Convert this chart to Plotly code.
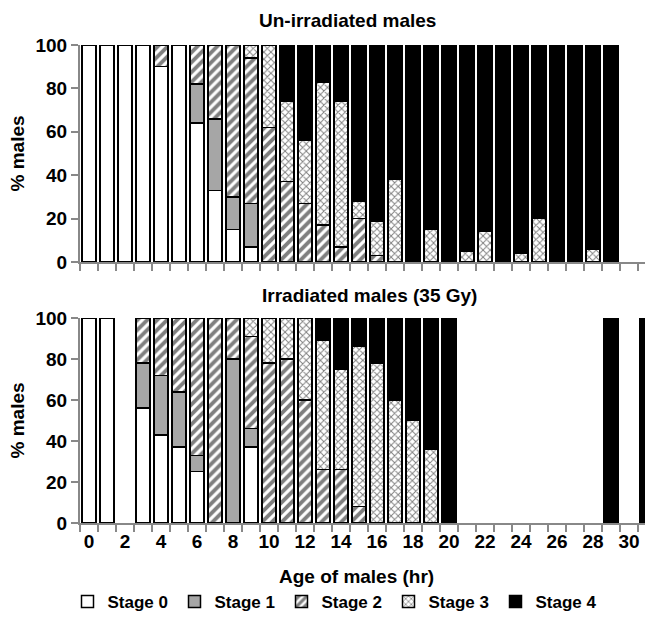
import plotly.graph_objects as go

ages = list(range(32))
tick_labels = [str(v) for v in range(0, 31, 2)]
stage_names = ["Stage 0", "Stage 1", "Stage 2", "Stage 3", "Stage 4"]

# Un-irradiated males (% per stage), ages 0..31
un_s0 = [100, 100, 100, 100, 90, 100, 64, 33, 15, 7, 0, 0, 0, 0, 0, 0, 0, 0, 0, 0, 0, 0, 0, 0, 0, 0, 0, 0, 0, 0, 0, 0]
un_s1 = [0, 0, 0, 0, 0, 0, 18, 33, 15, 20, 0, 0, 0, 0, 0, 0, 0, 0, 0, 0, 0, 0, 0, 0, 0, 0, 0, 0, 0, 0, 0, 0]
un_s2 = [0, 0, 0, 0, 10, 0, 18, 34, 70, 67, 62, 37, 27, 17, 7, 20, 3, 0, 0, 0, 0, 0, 0, 0, 0, 0, 0, 0, 0, 0, 0, 0]
un_s3 = [0, 0, 0, 0, 0, 0, 0, 0, 0, 6, 38, 37, 29, 66, 67, 8, 16, 38, 0, 15, 0, 5, 14, 0, 4, 20, 0, 0, 6, 0, 0, 0]
un_s4 = [0, 0, 0, 0, 0, 0, 0, 0, 0, 0, 0, 26, 44, 17, 26, 72, 81, 62, 100, 85, 100, 95, 86, 100, 96, 80, 100, 100, 94, 100, 0, 0]

# Irradiated males (35 Gy)
ir_s0 = [100, 100, 0, 56, 43, 37, 25, 0, 0, 37, 0, 0, 0, 0, 0, 0, 0, 0, 0, 0, 0, 0, 0, 0, 0, 0, 0, 0, 0, 0, 0, 0]
ir_s1 = [0, 0, 0, 22, 29, 27, 8, 0, 80, 9, 0, 0, 0, 0, 0, 0, 0, 0, 0, 0, 0, 0, 0, 0, 0, 0, 0, 0, 0, 0, 0, 0]
ir_s2 = [0, 0, 0, 22, 28, 36, 67, 100, 20, 45, 78, 80, 60, 26, 26, 8, 0, 0, 0, 0, 0, 0, 0, 0, 0, 0, 0, 0, 0, 0, 0, 0]
ir_s3 = [0, 0, 0, 0, 0, 0, 0, 0, 0, 9, 22, 20, 40, 63, 49, 78, 78, 60, 50, 36, 0, 0, 0, 0, 0, 0, 0, 0, 0, 0, 0, 0]
ir_s4 = [0, 0, 0, 0, 0, 0, 0, 0, 0, 0, 0, 0, 0, 11, 25, 14, 22, 40, 50, 64, 100, 0, 0, 0, 0, 0, 0, 0, 0, 100, 0, 100]

styles = [
    dict(color="white", pattern=dict(shape="")),
    dict(color="#A6A6A6", pattern=dict(shape="")),
    dict(color="white", pattern=dict(shape="/", fgcolor="black", bgcolor="white", size=7, solidity=0.55, fillmode="overlay")),
    dict(color="white", pattern=dict(shape="x", fgcolor="black", bgcolor="white", size=5, solidity=0.35, fillmode="overlay")),
    dict(color="black", pattern=dict(shape="")),
]

FONT = "Liberation Sans"
fig = go.Figure()

def nz(vals):
    return [v if v else None for v in vals]

for panel, series, ya, xa in [
    ("top", [un_s0, un_s1, un_s2, un_s3, un_s4], "y", "x"),
    ("bot", [ir_s0, ir_s1, ir_s2, ir_s3, ir_s4], "y2", "x2"),
]:
    for i, vals in enumerate(series):
        st = styles[i]
        fig.add_trace(go.Bar(
            x=ages, y=nz(vals), name=stage_names[i],
            xaxis=xa, yaxis=ya,
            legendgroup=stage_names[i], showlegend=(panel == "bot"),
            marker=dict(color=st["color"], pattern=st["pattern"],
                        line=dict(color="black", width=1.5)),
            hoverinfo="skip",
        ))

axis_gray = "#888888"
tfont = dict(family=FONT, size=19, color="black", weight="bold")
xcommon = dict(range=[-0.5, 31.33], showgrid=False, zeroline=False,
               showline=True, linecolor=axis_gray, linewidth=2,
               ticks="", tickmode="array", tickvals=list(range(0, 31, 2)),
               minor=dict(ticks="outside", tickmode="linear", tick0=0.5, dtick=1,
                          ticklen=7, tickwidth=2, tickcolor=axis_gray, showgrid=False),
               tickfont=tfont)
ycommon = dict(range=[0, 100], showgrid=False, zeroline=False,
               showline=True, linecolor=axis_gray, linewidth=2,
               ticks="outside", ticklen=7, tickwidth=2, tickcolor=axis_gray,
               tickvals=[0, 20, 40, 60, 80, 100],
               tickfont=tfont)

# page body has an 8px margin; figure is sized to fit the visible window
fig.update_layout(
    width=645, height=618,
    margin=dict(l=72, r=0, t=37, b=103, autoexpand=False),
    paper_bgcolor="white", plot_bgcolor="white",
    barmode="stack", bargap=0.22,
    xaxis=dict(**xcommon, anchor="y", showticklabels=False, ticktext=tick_labels),
    xaxis2=dict(**xcommon, anchor="y2", ticktext=tick_labels),
    yaxis=dict(**ycommon, domain=[0.546, 1.0], anchor="x"),
    yaxis2=dict(**ycommon, domain=[0.0, 0.429], anchor="x2"),
    legend=dict(orientation="h", x=(335 - 80) / 573, xanchor="center", y=(523 - 602) / 478, yanchor="middle",
                font=dict(family=FONT, size=17, color="black", weight="bold"),
                traceorder="normal", itemwidth=30, entrywidth=62, bgcolor="rgba(0,0,0,0)",
                tracegroupgap=0),
    showlegend=True,
)

ann_font = dict(family=FONT, size=19, color="black", weight="bold")
fig.add_annotation(text="Un-irradiated males", xref="paper", yref="paper",
                   x=(347 - 80) / 573, y=(523 - 8) / 478, showarrow=False,
                   xanchor="center", yanchor="top", font=ann_font)
fig.add_annotation(text="Irradiated males (35 Gy)", xref="paper", yref="paper",
                   x=(369 - 80) / 573, y=(523 - 295) / 478, showarrow=False,
                   xanchor="center", yanchor="middle", font=ann_font)
fig.add_annotation(text="Age of males (hr)", xref="paper", yref="paper",
                   x=(356 - 80) / 573, y=(523 - 576) / 478, showarrow=False,
                   xanchor="center", yanchor="middle", font=ann_font)
for yc in [(45 + 262) / 2, (318 + 523) / 2]:
    fig.add_annotation(text="% males", xref="paper", yref="paper",
                       x=(17 - 80) / 573, y=(523 - yc) / 478, showarrow=False,
                       textangle=-90, xanchor="center", yanchor="middle", font=ann_font)

fig.write_html("out.html")
